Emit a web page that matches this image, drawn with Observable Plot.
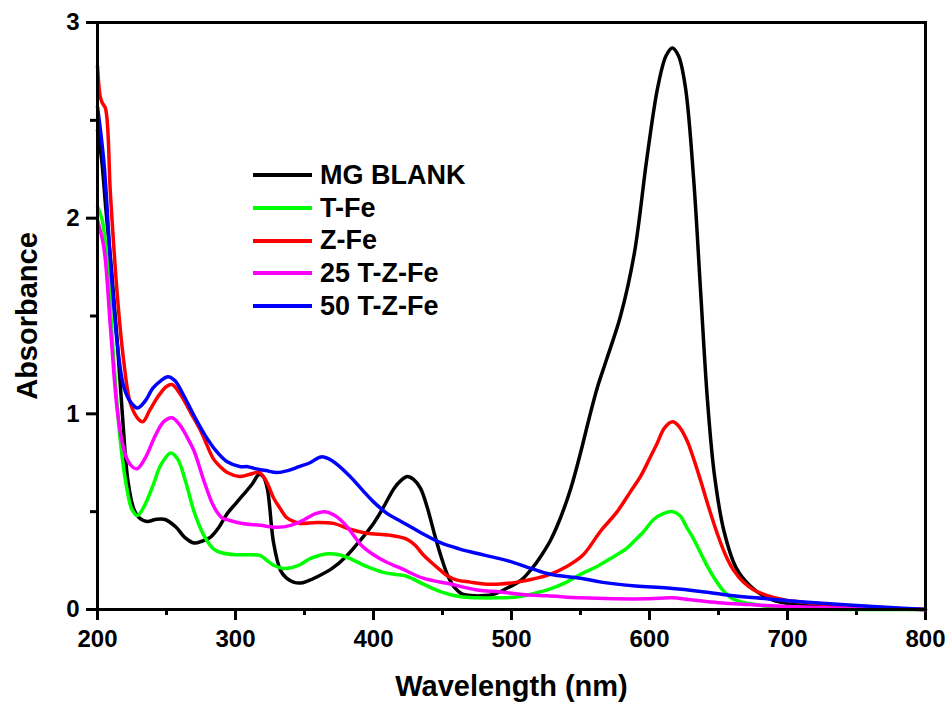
<!DOCTYPE html>
<html>
<head>
<meta charset="utf-8">
<script src="https://cdn.jsdelivr.net/npm/d3@7"></script>
<script src="https://cdn.jsdelivr.net/npm/@observablehq/plot@0.6"></script>
<style>
  html, body { margin: 0; padding: 0; background: #fff; }
  #wrap { position: relative; width: 947px; height: 702px; font-family: "Liberation Sans", Arial, sans-serif; }
  #legend { position: absolute; left: 253px; top: 159px; }
  .row { display: flex; align-items: center; height: 32.7px; }
  .swatch { width: 59px; height: 4px; margin-right: 8px; }
  .lab { font-weight: bold; font-size: 27px; color: #000; line-height: 1; }
</style>
</head>
<body>
<div id="wrap"><div id="legend"></div></div>
<script>
// Series names and colours
const seriesNames = ["MG BLANK", "T-Fe", "Z-Fe", "25 T-Z-Fe", "50 T-Z-Fe"];
const seriesColors = ["#000000", "#00ff00", "#ff0000", "#ff00ff", "#0000ff"];

// Tick values
const xTicks = [200, 300, 400, 500, 600, 700, 800];
const xMinor = [250, 350, 450, 550, 650, 750];
const yTicks = [0, 1, 2, 3];
const yMinor = [0.5, 1.5, 2.5];

// MG BLANK
const wlBlank = [200,203,206,210,214,218,222,226,230,236,242,249,257,263,270,276,282,288,294,300,306,312,317,320,323,327.6,332.6,337,342,347,352,360,370,380,390,400,407,415,420,424.5,429,434,439,444,449,454,459,464,470,478,488,497,507,516,522,528,535,543,550,556,562,569,579,589,598,606,612,616.5,621,626,632,637,642,647,654,663,673,685,700,750,800];
const absBlank = [2.45,2.30,2.05,1.75,1.40,1.00,0.66,0.52,0.47,0.45,0.46,0.46,0.42,0.37,0.34,0.35,0.37,0.42,0.49,0.54,0.59,0.64,0.69,0.68,0.62,0.34,0.20,0.16,0.14,0.135,0.145,0.17,0.21,0.27,0.35,0.44,0.52,0.62,0.66,0.68,0.665,0.62,0.52,0.39,0.27,0.17,0.11,0.08,0.072,0.07,0.08,0.11,0.15,0.22,0.28,0.35,0.46,0.62,0.80,0.97,1.13,1.28,1.50,1.82,2.30,2.67,2.83,2.87,2.83,2.67,2.20,1.63,1.07,0.69,0.40,0.21,0.12,0.06,0.03,0.01,0.0];

// T-Fe
const wlTFe = [200,203.4,207,211.8,216.7,221.5,225,229,234,240,246,253,258,264,270,277,284,290,300,310,318,323,328,335,341,347,354,360,367,375,383,395,407,415,424,436,449,463,475,490,505,515,526,540,550,562,574,583,589,596,603,610,617,622,627,632,637,642,647,653,659,666,673,690,700,750,800];
const absTFe = [2.06,1.99,1.78,1.27,0.85,0.61,0.51,0.48,0.53,0.63,0.74,0.80,0.77,0.65,0.50,0.38,0.31,0.29,0.28,0.28,0.275,0.25,0.225,0.21,0.215,0.23,0.26,0.275,0.285,0.28,0.26,0.22,0.19,0.18,0.17,0.13,0.09,0.065,0.06,0.06,0.065,0.08,0.10,0.14,0.18,0.22,0.27,0.31,0.35,0.40,0.46,0.49,0.50,0.48,0.42,0.36,0.29,0.22,0.16,0.10,0.06,0.04,0.03,0.01,0.005,0.0,0.0];

// Z-Fe
const wlZFe = [200,202,203.4,205.8,209.4,214.3,219,224,230,233,238,244,250,254,260,268,275,284,289,294,303,310,317,322,327.6,332,337,342,347,359,371,383,395,412,424,430,436,442,448.6,454,460.6,470,480,492,504,515,528,540,552,564.5,576.6,586,593.5,600,605.6,611,617,622,627.4,632,637,643,649,655,661,668,675.6,686,697,720,760,800];
const absZFe = [2.78,2.62,2.59,2.56,2.12,1.61,1.27,1.05,0.97,0.96,1.02,1.09,1.14,1.15,1.10,1.00,0.91,0.77,0.73,0.70,0.68,0.69,0.70,0.66,0.57,0.52,0.47,0.45,0.44,0.445,0.44,0.41,0.39,0.38,0.36,0.33,0.28,0.24,0.20,0.17,0.15,0.14,0.13,0.13,0.14,0.155,0.18,0.22,0.28,0.40,0.50,0.60,0.68,0.77,0.85,0.93,0.96,0.93,0.86,0.77,0.66,0.52,0.39,0.28,0.20,0.14,0.10,0.07,0.05,0.03,0.01,0.0];

// 25 T-Z-Fe
const wl25 = [200,204.6,209.4,214.3,219,222,226,229,235,242,248,254,260,265,270,277,284,290,296,305,318,330,340,350,358,365,372,380,391,400,410,420,436,456,475,492,510,526,550,574,600,616,630,650,673,700,750,800];
const abs25 = [1.99,1.85,1.44,1.02,0.82,0.76,0.725,0.72,0.78,0.89,0.96,0.98,0.94,0.88,0.81,0.66,0.53,0.47,0.455,0.44,0.43,0.42,0.43,0.46,0.49,0.50,0.48,0.43,0.33,0.28,0.24,0.21,0.16,0.13,0.10,0.09,0.075,0.07,0.06,0.055,0.055,0.06,0.05,0.035,0.025,0.015,0.005,0.0];

// 50 T-Z-Fe
const wl50 = [200,204.6,209.4,214.3,219,224,229,235,240,246,251,256,262,270,278,286,294,303.6,309,314,322,330,338,346,354,362,370,383,392,400,410,420,435,449,462,473,485,497,514,528,550,565,590,613,640,661,685,709,750,800];
const abs50 = [2.57,2.29,1.78,1.36,1.14,1.06,1.03,1.07,1.13,1.17,1.19,1.17,1.10,0.99,0.89,0.81,0.755,0.73,0.73,0.72,0.71,0.70,0.71,0.73,0.75,0.78,0.76,0.68,0.61,0.55,0.49,0.45,0.39,0.34,0.31,0.29,0.27,0.25,0.21,0.18,0.16,0.14,0.12,0.11,0.09,0.07,0.055,0.04,0.02,0.0];

const seriesWl = [wlBlank, wlTFe, wlZFe, wl25, wl50];
const seriesAbs = [absBlank, absTFe, absZFe, abs25, abs50];

const rows = [];
seriesNames.forEach((name, i) => {
  seriesWl[i].forEach((w, j) => rows.push({series: name, wl: w, a: seriesAbs[i][j]}));
});

const font = "'Liberation Sans', Arial, sans-serif";

const chart = Plot.plot({
  width: 947,
  height: 702,
  marginLeft: 97,
  marginRight: 22,
  marginTop: 22,
  marginBottom: 93,
  style: {fontFamily: font, color: "#000", background: "#fff", overflow: "visible"},
  x: {domain: [200, 800], label: null},
  y: {domain: [0, 3], label: null},
  color: {domain: seriesNames, range: seriesColors},
  marks: [
    Plot.axisX(xMinor, {tickSize: 6, strokeWidth: 3, tickFormat: null, text: null}),
    Plot.axisY(yMinor, {tickSize: 7, strokeWidth: 3, tickFormat: null, text: null}),
    Plot.axisX(xTicks, {tickSize: 11, strokeWidth: 3, tickPadding: 9, fontSize: 24, fontWeight: "bold", tickFormat: d => String(d), label: null}),
    Plot.axisY(yTicks, {tickSize: 11, strokeWidth: 3, tickPadding: 7, fontSize: 24, fontWeight: "bold", tickFormat: d => String(d), label: null}),
    Plot.line(rows, {x: "wl", y: "a", z: "series", stroke: "series", strokeWidth: 3.5, curve: "catmull-rom"}),
    Plot.frame({stroke: "#000", strokeWidth: 3}),
    Plot.text(["Wavelength (nm)"], {frameAnchor: "bottom", dy: 86, fontSize: 29, fontWeight: "bold", fill: "#000"}),
    Plot.text(["Absorbance"], {frameAnchor: "left", dx: -70, rotate: -90, textAnchor: "middle", fontSize: 29, fontWeight: "bold", fill: "#000"})
  ]
});

const wrap = document.getElementById("wrap");
wrap.insertBefore(chart, wrap.firstChild);

const legend = document.getElementById("legend");
seriesNames.forEach((name, i) => {
  const r = document.createElement("div");
  r.className = "row";
  const s = document.createElement("div");
  s.className = "swatch";
  s.style.background = seriesColors[i];
  const t = document.createElement("span");
  t.className = "lab";
  t.textContent = name;
  r.appendChild(s); r.appendChild(t);
  legend.appendChild(r);
});
</script>
</body>
</html>
